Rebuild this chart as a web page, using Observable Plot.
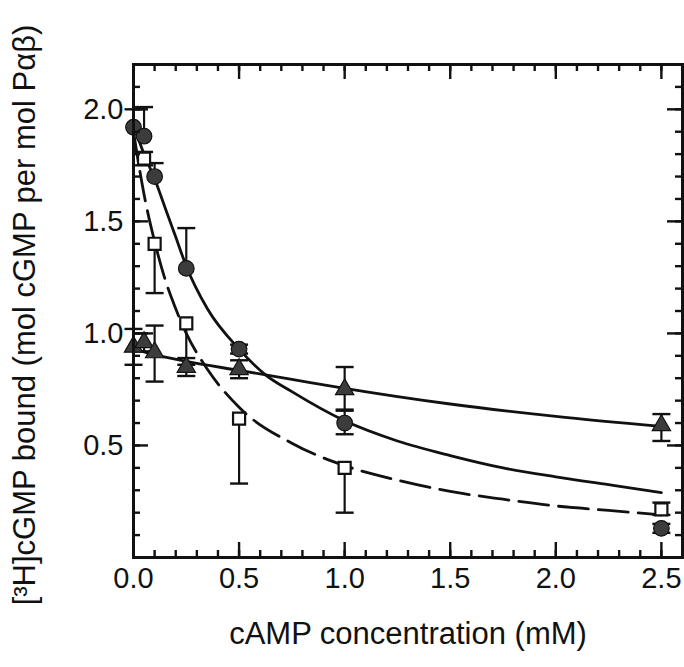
<!DOCTYPE html>
<html>
<head>
<meta charset="utf-8">
<script src="https://cdn.jsdelivr.net/npm/d3@7"></script>
<script src="https://cdn.jsdelivr.net/npm/@observablehq/plot@0.6"></script>
<style>
  html, body { margin: 0; padding: 0; background: #fff; }
  #chart svg { display: block; }
</style>
</head>
<body>
<div id="chart"></div>
<script>
// ---- data ----
const xTitle = "cAMP concentration (mM)";
const yTitle = "[³H]cGMP bound (mol cGMP per mol Pαβ)";

const xTickLabels = [0, 0.5, 1.0, 1.5, 2.0, 2.5];
const yTickLabels = [0.5, 1.0, 1.5, 2.0];
const xMinorTicks = d3.range(1, 26).map(i => i / 10);
const yMinorTicks = d3.range(1, 22).map(i => i / 10);
const xMajorTicks = [0.5, 1.0, 1.5, 2.0, 2.5];
const yMajorTicks = [0.5, 1.0, 1.5, 2.0];

// filled circles (solid fitted curve)
const circleX  = [0, 0.05, 0.1, 0.25, 0.5, 1.0, 2.5];
const circleY  = [1.92, 1.88, 1.70, 1.29, 0.93, 0.60, 0.13];
const circleLo = [1.92, 1.88, 1.70, 1.29, 0.91, 0.55, 0.11];
const circleHi = [2.00, 2.01, 1.76, 1.47, 0.95, 0.66, 0.15];

// open squares (dashed fitted curve)
const squareX  = [0.05, 0.1, 0.25, 0.5, 1.0, 2.5];
const squareY  = [1.78, 1.40, 1.045, 0.62, 0.40, 0.215];
const squareLo = [1.75, 1.18, 0.86, 0.33, 0.20, 0.19];
const squareHi = [1.81, 1.40, 1.045, 0.62, 0.40, 0.245];

// filled triangles (solid line)
const triX  = [0, 0.05, 0.1, 0.25, 0.5, 1.0, 2.5];
const triY  = [0.94, 0.96, 0.915, 0.85, 0.84, 0.75, 0.59];
const triLo = [0.86, 0.92, 0.785, 0.81, 0.80, 0.655, 0.52];
const triHi = [1.02, 1.00, 1.035, 0.89, 0.88, 0.85, 0.64];

// fitted curves
const circleFitX = [0, 0.05, 0.1, 0.15, 0.2, 0.25, 0.35, 0.5, 0.625, 0.75, 1.0, 1.25, 1.5, 1.75, 2.0, 2.25, 2.5];
const circleFitY = [1.93, 1.80, 1.69, 1.56, 1.43, 1.30, 1.11, 0.93, 0.815, 0.74, 0.61, 0.52, 0.455, 0.40, 0.36, 0.325, 0.29];
const squareFitX = [0, 0.05, 0.1, 0.15, 0.2, 0.25, 0.35, 0.5, 0.75, 1.0, 1.25, 1.5, 1.75, 2.0, 2.25, 2.5];
const squareFitY = [1.90, 1.62, 1.41, 1.24, 1.11, 1.00, 0.84, 0.67, 0.51, 0.41, 0.345, 0.295, 0.26, 0.23, 0.21, 0.19];
const triFitX = [0, 0.1, 0.25, 0.5, 0.75, 1.0, 1.5, 2.0, 2.5];
const triFitY = [0.93, 0.905, 0.875, 0.835, 0.795, 0.755, 0.685, 0.63, 0.585];

// ---- build tables ----
const zip = (xs, ys) => xs.map((x, i) => ({x, y: ys[i]}));
const pts = (xs, ys, lo, hi) => xs.map((x, i) => ({x, y: ys[i], lo: lo[i], hi: hi[i]}));
const circles = pts(circleX, circleY, circleLo, circleHi);
const squares = pts(squareX, squareY, squareLo, squareHi);
const tris = pts(triX, triY, triLo, triHi);
const allPts = [...circles, ...squares, ...tris];
const bars = allPts.filter(d => d.lo !== d.hi);
const capsLo = allPts.filter(d => d.lo < d.y);
const capsHi = allPts.filter(d => d.hi > d.y);

const W = 684, H = 667;
const mL = 133, mR = 2, mT = 64, mB = 110;
const pw = W - mL - mR, ph = H - mT - mB;
const minor = 7, major = 15;

const capSymbol = {
  draw(context, size) {
    const r = Math.sqrt(size / Math.PI);
    context.moveTo(-r, 0);
    context.lineTo(r, 0);
  }
};

const font = "'Liberation Sans', Arial, Helvetica, sans-serif";

const chart = Plot.plot({
  width: W, height: H,
  marginLeft: mL, marginRight: mR, marginTop: mT, marginBottom: mB,
  style: {fontFamily: font, fontSize: "29px", color: "#111", background: "#fff"},
  x: {domain: [0, 2.6], label: null},
  y: {domain: [0, 2.2], label: null},
  marks: [
    // curves
    Plot.line(zip(circleFitX, circleFitY), {x: "x", y: "y", curve: "monotone-x", stroke: "#111", strokeWidth: 2.8}),
    Plot.line(zip(squareFitX, squareFitY), {x: "x", y: "y", curve: "monotone-x", stroke: "#111", strokeWidth: 2.8, strokeDasharray: "30,10"}),
    Plot.line(zip(triFitX, triFitY), {x: "x", y: "y", curve: "monotone-x", stroke: "#111", strokeWidth: 2.8}),
    // error bars
    Plot.ruleX(bars, {x: "x", y1: "lo", y2: "hi", stroke: "#111", strokeWidth: 2.2}),
    Plot.dot(capsLo, {x: "x", y: "lo", symbol: capSymbol, r: 9, stroke: "#111", strokeWidth: 2.4}),
    Plot.dot(capsHi, {x: "x", y: "hi", symbol: capSymbol, r: 9, stroke: "#111", strokeWidth: 2.4}),
    // markers
    Plot.dot(squares, {x: "x", y: "y", symbol: "square", r: 6.8, fill: "#fff", stroke: "#111", strokeWidth: 2.2}),
    Plot.dot(tris, {x: "x", y: "y", symbol: "triangle", r: 6.8, fill: "#3c3c3c", stroke: "#111", strokeWidth: 1.2}),
    Plot.dot(circles, {x: "x", y: "y", symbol: "circle", r: 7.8, fill: "#3c3c3c", stroke: "#111", strokeWidth: 1.2}),
    // inward ticks on four sides
    Plot.tickX(xMinorTicks, {x: d => d, insetTop: ph - minor, stroke: "#111", strokeWidth: 2.4}),
    Plot.tickX(xMajorTicks, {x: d => d, insetTop: ph - major, stroke: "#111", strokeWidth: 2.4}),
    Plot.tickX(xMinorTicks, {x: d => d, insetBottom: ph - minor, stroke: "#111", strokeWidth: 2.4}),
    Plot.tickX(xMajorTicks, {x: d => d, insetBottom: ph - major, stroke: "#111", strokeWidth: 2.4}),
    Plot.tickY(yMinorTicks, {y: d => d, insetRight: pw - minor, stroke: "#111", strokeWidth: 2.4}),
    Plot.tickY(yMajorTicks, {y: d => d, insetRight: pw - major, stroke: "#111", strokeWidth: 2.4}),
    Plot.tickY(yMinorTicks, {y: d => d, insetLeft: pw - minor, stroke: "#111", strokeWidth: 2.4}),
    Plot.tickY(yMajorTicks, {y: d => d, insetLeft: pw - major, stroke: "#111", strokeWidth: 2.4}),
    Plot.frame({stroke: "#111", strokeWidth: 3}),
    // tick labels
    Plot.axisX(xTickLabels, {anchor: "bottom", tickSize: 0, tickPadding: 10, tickFormat: d3.format(".1f"), label: null, fill: "#111"}),
    Plot.axisY(yTickLabels, {anchor: "left", tickSize: 0, tickPadding: 10, tickFormat: d3.format(".1f"), label: null, fill: "#111"}),
    // titles
    Plot.text([xTitle], {text: d => d, frameAnchor: "bottom", textAnchor: "middle", dy: 86, fontSize: 31, fill: "#111"}),
    Plot.text([yTitle], {text: d => d, frameAnchor: "left", textAnchor: "middle", rotate: -90, dx: -108, dy: 4, fontSize: 31, fill: "#111"})
  ]
});
document.getElementById("chart").appendChild(chart);
</script>
</body>
</html>
